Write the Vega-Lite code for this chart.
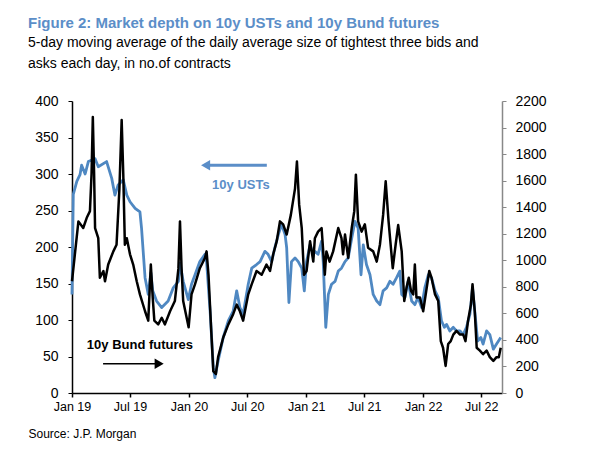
{
  "$schema": "https://vega.github.io/schema/vega-lite/v6.json",
  "width": 430,
  "height": 292,
  "autosize": "none",
  "padding": {"left": 72, "top": 101, "right": 98, "bottom": 57},
  "background": "white",
  "config": {"view": {"stroke": null}, "font": "Liberation Sans"},
  "title": {
    "text": "Figure 2: Market depth on 10y USTs and 10y Bund futures",
    "subtitle": ["5-day moving average of the daily average size of tightest three bids and", "asks each day, in no.of contracts"],
    "anchor": "start",
    "frame": "group",
    "dx": -44,
    "offset": 23,
    "color": "#5b8ec8",
    "fontSize": 15,
    "fontWeight": "bold",
    "subtitleFontSize": 14,
    "subtitleColor": "black",
    "subtitleLineHeight": 21,
    "subtitlePadding": 5
  },
  "datasets": {
    "ust": [
      {"d": "2019-01-01", "v": 135}, {"d": "2019-01-05", "v": 272}, {"d": "2019-01-16", "v": 290}, {"d": "2019-01-26", "v": 299},
      {"d": "2019-01-31", "v": 312}, {"d": "2019-02-11", "v": 300}, {"d": "2019-02-21", "v": 317}, {"d": "2019-03-14", "v": 321},
      {"d": "2019-03-24", "v": 310}, {"d": "2019-04-19", "v": 317}, {"d": "2019-05-05", "v": 294}, {"d": "2019-05-15", "v": 271},
      {"d": "2019-05-25", "v": 285}, {"d": "2019-06-10", "v": 292}, {"d": "2019-06-21", "v": 271}, {"d": "2019-07-01", "v": 262},
      {"d": "2019-07-17", "v": 253}, {"d": "2019-08-01", "v": 248}, {"d": "2019-08-06", "v": 226}, {"d": "2019-08-17", "v": 158},
      {"d": "2019-08-27", "v": 135}, {"d": "2019-09-04", "v": 165}, {"d": "2019-09-10", "v": 140}, {"d": "2019-09-22", "v": 126},
      {"d": "2019-10-08", "v": 117}, {"d": "2019-10-28", "v": 126}, {"d": "2019-11-13", "v": 144}, {"d": "2019-11-29", "v": 153},
      {"d": "2019-12-04", "v": 178}, {"d": "2019-12-14", "v": 153}, {"d": "2019-12-30", "v": 128}, {"d": "2020-01-09", "v": 149},
      {"d": "2020-01-20", "v": 162}, {"d": "2020-02-04", "v": 180}, {"d": "2020-02-20", "v": 190}, {"d": "2020-02-25", "v": 180},
      {"d": "2020-03-07", "v": 112}, {"d": "2020-03-17", "v": 35}, {"d": "2020-03-22", "v": 21}, {"d": "2020-04-01", "v": 44},
      {"d": "2020-04-17", "v": 76}, {"d": "2020-05-03", "v": 99}, {"d": "2020-05-18", "v": 112}, {"d": "2020-05-29", "v": 140},
      {"d": "2020-06-08", "v": 117}, {"d": "2020-06-18", "v": 108}, {"d": "2020-07-04", "v": 149}, {"d": "2020-07-15", "v": 171},
      {"d": "2020-07-30", "v": 176}, {"d": "2020-08-10", "v": 180}, {"d": "2020-08-25", "v": 194}, {"d": "2020-09-04", "v": 190},
      {"d": "2020-09-15", "v": 180}, {"d": "2020-09-25", "v": 199}, {"d": "2020-10-06", "v": 217}, {"d": "2020-10-16", "v": 231},
      {"d": "2020-10-27", "v": 217}, {"d": "2020-11-01", "v": 199}, {"d": "2020-11-08", "v": 124}, {"d": "2020-11-16", "v": 180},
      {"d": "2020-11-27", "v": 185}, {"d": "2020-12-07", "v": 180}, {"d": "2020-12-18", "v": 171}, {"d": "2020-12-26", "v": 140},
      {"d": "2021-01-02", "v": 180}, {"d": "2021-01-13", "v": 203}, {"d": "2021-01-23", "v": 190}, {"d": "2021-01-28", "v": 194},
      {"d": "2021-02-07", "v": 190}, {"d": "2021-02-18", "v": 208}, {"d": "2021-02-23", "v": 180}, {"d": "2021-03-03", "v": 90},
      {"d": "2021-03-11", "v": 135}, {"d": "2021-03-21", "v": 149}, {"d": "2021-04-01", "v": 153}, {"d": "2021-04-11", "v": 167},
      {"d": "2021-04-21", "v": 171}, {"d": "2021-05-02", "v": 180}, {"d": "2021-05-12", "v": 185}, {"d": "2021-05-23", "v": 212},
      {"d": "2021-06-02", "v": 235}, {"d": "2021-06-12", "v": 226}, {"d": "2021-06-21", "v": 162}, {"d": "2021-06-28", "v": 203},
      {"d": "2021-07-08", "v": 176}, {"d": "2021-07-19", "v": 162}, {"d": "2021-07-29", "v": 135}, {"d": "2021-08-09", "v": 126},
      {"d": "2021-08-19", "v": 121}, {"d": "2021-08-29", "v": 140}, {"d": "2021-09-09", "v": 144}, {"d": "2021-09-19", "v": 153},
      {"d": "2021-09-29", "v": 149}, {"d": "2021-10-10", "v": 158}, {"d": "2021-10-20", "v": 167}, {"d": "2021-10-26", "v": 135},
      {"d": "2021-11-05", "v": 131}, {"d": "2021-11-15", "v": 153}, {"d": "2021-11-26", "v": 126}, {"d": "2021-12-06", "v": 121},
      {"d": "2021-12-16", "v": 131}, {"d": "2021-12-27", "v": 117}, {"d": "2022-01-06", "v": 144}, {"d": "2022-01-17", "v": 162},
      {"d": "2022-01-27", "v": 158}, {"d": "2022-02-07", "v": 140}, {"d": "2022-02-17", "v": 131}, {"d": "2022-02-27", "v": 99},
      {"d": "2022-03-08", "v": 90}, {"d": "2022-03-15", "v": 94}, {"d": "2022-03-25", "v": 85}, {"d": "2022-04-05", "v": 90},
      {"d": "2022-04-15", "v": 85}, {"d": "2022-04-26", "v": 85}, {"d": "2022-05-06", "v": 80}, {"d": "2022-05-16", "v": 90},
      {"d": "2022-05-27", "v": 108}, {"d": "2022-06-04", "v": 144}, {"d": "2022-06-11", "v": 112}, {"d": "2022-06-20", "v": 71},
      {"d": "2022-06-30", "v": 76}, {"d": "2022-07-07", "v": 67}, {"d": "2022-07-18", "v": 85}, {"d": "2022-07-28", "v": 80},
      {"d": "2022-08-08", "v": 60}, {"d": "2022-08-18", "v": 67}, {"d": "2022-08-31", "v": 76}
    ],
    "bund": [
      {"d": "2019-01-01", "v": 842}, {"d": "2019-01-21", "v": 1293}, {"d": "2019-02-05", "v": 1243}, {"d": "2019-02-16", "v": 1320},
      {"d": "2019-02-26", "v": 1370}, {"d": "2019-03-03", "v": 1650}, {"d": "2019-03-07", "v": 2079}, {"d": "2019-03-11", "v": 1650},
      {"d": "2019-03-14", "v": 1243}, {"d": "2019-03-24", "v": 1166}, {"d": "2019-03-29", "v": 869}, {"d": "2019-04-09", "v": 919},
      {"d": "2019-04-14", "v": 842}, {"d": "2019-04-24", "v": 968}, {"d": "2019-05-10", "v": 1067}, {"d": "2019-05-20", "v": 1117},
      {"d": "2019-05-29", "v": 1540}, {"d": "2019-06-05", "v": 2057}, {"d": "2019-06-10", "v": 1650}, {"d": "2019-06-15", "v": 1117},
      {"d": "2019-06-21", "v": 1166}, {"d": "2019-07-01", "v": 1045}, {"d": "2019-07-11", "v": 968}, {"d": "2019-07-22", "v": 842},
      {"d": "2019-08-01", "v": 743}, {"d": "2019-08-17", "v": 616}, {"d": "2019-08-27", "v": 545}, {"d": "2019-09-04", "v": 968},
      {"d": "2019-09-10", "v": 715}, {"d": "2019-09-15", "v": 545}, {"d": "2019-09-27", "v": 517}, {"d": "2019-10-08", "v": 567},
      {"d": "2019-10-18", "v": 517}, {"d": "2019-11-03", "v": 616}, {"d": "2019-11-18", "v": 693}, {"d": "2019-11-29", "v": 935},
      {"d": "2019-12-04", "v": 1293}, {"d": "2019-12-09", "v": 935}, {"d": "2019-12-14", "v": 693}, {"d": "2019-12-31", "v": 495},
      {"d": "2020-01-09", "v": 743}, {"d": "2020-01-20", "v": 820}, {"d": "2020-02-04", "v": 940}, {"d": "2020-02-20", "v": 1018},
      {"d": "2020-02-25", "v": 1067}, {"d": "2020-03-02", "v": 891}, {"d": "2020-03-10", "v": 495}, {"d": "2020-03-17", "v": 165},
      {"d": "2020-03-25", "v": 143}, {"d": "2020-04-01", "v": 270}, {"d": "2020-04-17", "v": 418}, {"d": "2020-05-03", "v": 517},
      {"d": "2020-05-18", "v": 594}, {"d": "2020-05-29", "v": 666}, {"d": "2020-06-08", "v": 616}, {"d": "2020-06-18", "v": 545},
      {"d": "2020-07-04", "v": 743}, {"d": "2020-07-15", "v": 820}, {"d": "2020-07-30", "v": 919}, {"d": "2020-08-15", "v": 891},
      {"d": "2020-08-30", "v": 968}, {"d": "2020-09-10", "v": 919}, {"d": "2020-09-20", "v": 1045}, {"d": "2020-10-01", "v": 1144},
      {"d": "2020-10-11", "v": 1293}, {"d": "2020-10-21", "v": 1271}, {"d": "2020-11-01", "v": 1194}, {"d": "2020-11-14", "v": 1342},
      {"d": "2020-11-27", "v": 1540}, {"d": "2020-12-03", "v": 1744}, {"d": "2020-12-10", "v": 1419}, {"d": "2020-12-18", "v": 1243},
      {"d": "2020-12-25", "v": 891}, {"d": "2021-01-02", "v": 919}, {"d": "2021-01-13", "v": 1144}, {"d": "2021-01-23", "v": 990},
      {"d": "2021-01-28", "v": 1166}, {"d": "2021-02-07", "v": 1216}, {"d": "2021-02-18", "v": 1243}, {"d": "2021-02-28", "v": 891},
      {"d": "2021-03-05", "v": 1067}, {"d": "2021-03-15", "v": 990}, {"d": "2021-03-26", "v": 1067}, {"d": "2021-04-11", "v": 1243},
      {"d": "2021-04-21", "v": 1166}, {"d": "2021-04-26", "v": 1045}, {"d": "2021-05-02", "v": 1194}, {"d": "2021-05-12", "v": 1018},
      {"d": "2021-05-23", "v": 1243}, {"d": "2021-05-31", "v": 1370}, {"d": "2021-06-05", "v": 1645}, {"d": "2021-06-12", "v": 1293},
      {"d": "2021-06-23", "v": 1216}, {"d": "2021-07-03", "v": 1271}, {"d": "2021-07-13", "v": 1095}, {"d": "2021-07-29", "v": 1067},
      {"d": "2021-08-09", "v": 990}, {"d": "2021-08-19", "v": 1117}, {"d": "2021-08-29", "v": 1342}, {"d": "2021-09-06", "v": 1595},
      {"d": "2021-09-15", "v": 1293}, {"d": "2021-09-28", "v": 940}, {"d": "2021-10-07", "v": 1117}, {"d": "2021-10-15", "v": 1265},
      {"d": "2021-10-26", "v": 1067}, {"d": "2021-11-03", "v": 693}, {"d": "2021-11-10", "v": 792}, {"d": "2021-11-17", "v": 869},
      {"d": "2021-11-24", "v": 770}, {"d": "2021-12-01", "v": 743}, {"d": "2021-12-06", "v": 968}, {"d": "2021-12-11", "v": 720},
      {"d": "2021-12-22", "v": 720}, {"d": "2022-01-01", "v": 616}, {"d": "2022-01-12", "v": 792}, {"d": "2022-01-20", "v": 919},
      {"d": "2022-01-27", "v": 869}, {"d": "2022-02-07", "v": 743}, {"d": "2022-02-17", "v": 693}, {"d": "2022-02-25", "v": 391},
      {"d": "2022-03-04", "v": 341}, {"d": "2022-03-12", "v": 204}, {"d": "2022-03-20", "v": 369}, {"d": "2022-03-28", "v": 391},
      {"d": "2022-04-05", "v": 440}, {"d": "2022-04-15", "v": 468}, {"d": "2022-04-26", "v": 440}, {"d": "2022-05-06", "v": 440},
      {"d": "2022-05-13", "v": 391}, {"d": "2022-05-21", "v": 545}, {"d": "2022-05-30", "v": 666}, {"d": "2022-06-04", "v": 820},
      {"d": "2022-06-11", "v": 616}, {"d": "2022-06-17", "v": 341}, {"d": "2022-06-27", "v": 319}, {"d": "2022-07-07", "v": 292},
      {"d": "2022-07-18", "v": 319}, {"d": "2022-07-28", "v": 270}, {"d": "2022-08-08", "v": 242}, {"d": "2022-08-18", "v": 270},
      {"d": "2022-08-25", "v": 270}, {"d": "2022-08-31", "v": 341}
    ],
    "labels": [
      {"d": "2020-06-11", "v": 285, "t": "10y USTs", "c": "ust"},
      {"d": "2019-08-01", "v": 66, "t": "10y Bund futures", "c": "bund"}
    ],
    "arrows": [
      {"d": "2020-02-28", "d2": "2020-08-31", "v": 312, "c": "ust"},
      {"d": "2019-04-08", "d2": "2019-09-25", "v": 40, "c": "bund"}
    ],
    "heads": [
      {"d": "2020-02-22", "v": 312, "c": "ust", "s": "triangle-left"},
      {"d": "2019-09-30", "v": 40, "c": "bund", "s": "triangle-right"}
    ]
  },
  "layer": [
    {
      "layer": [
        {
          "data": {"name": "ust"},
          "mark": {"type": "line", "color": "#4f88c2", "strokeWidth": 2.8, "strokeJoin": "round"},
          "encoding": {
            "x": {
              "field": "d", "type": "temporal",
              "scale": {"domain": [{"year": 2019, "month": 1, "date": 1}, {"year": 2022, "month": 9, "date": 4}]},
              "axis": {
                "title": "Source: J.P. Morgan", "titleAnchor": "start", "titleAlign": "left", "titleX": -44, "titleY": 44,
                "titleFontSize": 12, "titleFontWeight": "normal", "titleColor": "black", "titleBaseline": "alphabetic",
                "format": "%b %y", "tickCount": {"interval": "month", "step": 6},
                "labelFontSize": 12.5, "labelColor": "black", "labelPadding": 3, "labelFlush": false, "labelOverlap": false,
                "domainColor": "black", "domainWidth": 1.5, "tickColor": "black", "tickSize": 4, "tickWidth": 1.5, "grid": false
              }
            },
            "y": {
              "field": "v", "type": "quantitative",
              "scale": {"domain": [0, 400], "nice": false},
              "axis": {
                "title": null, "values": [0, 50, 100, 150, 200, 250, 300, 350, 400], "labelOverlap": false,
                "labelFontSize": 14, "labelColor": "black", "labelPadding": 10,
                "domainColor": "black", "domainWidth": 1.5, "tickColor": "black", "tickSize": 4, "grid": false
              }
            }
          }
        },
        {
          "data": {"name": "arrows"},
          "mark": {"type": "rule"},
          "encoding": {
            "x": {"field": "d", "type": "temporal"},
            "x2": {"field": "d2"},
            "y": {
              "field": "v", "type": "quantitative",
              "axis": {
                "title": null, "values": [0, 50, 100, 150, 200, 250, 300, 350, 400], "labelOverlap": false,
                "labelFontSize": 14, "labelColor": "black", "labelPadding": 10,
                "domainColor": "black", "domainWidth": 1.5, "tickColor": "black", "tickSize": 4, "grid": false
              }
            },
            "color": {"field": "c", "type": "nominal", "scale": {"domain": ["ust", "bund"], "range": ["#5b8ec8", "black"]}, "legend": null},
            "strokeWidth": {"field": "c", "type": "nominal", "scale": {"domain": ["ust", "bund"], "range": [3, 1.5]}, "legend": null}
          }
        },
        {
          "data": {"name": "heads"},
          "mark": {"type": "point", "filled": true, "opacity": 1, "size": 110},
          "encoding": {
            "x": {"field": "d", "type": "temporal"},
            "y": {
              "field": "v", "type": "quantitative",
              "axis": {
                "title": null, "values": [0, 50, 100, 150, 200, 250, 300, 350, 400], "labelOverlap": false,
                "labelFontSize": 14, "labelColor": "black", "labelPadding": 10,
                "domainColor": "black", "domainWidth": 1.5, "tickColor": "black", "tickSize": 4, "grid": false
              }
            },
            "shape": {"field": "s", "type": "nominal", "scale": null, "legend": null},
            "color": {"field": "c", "type": "nominal", "scale": {"domain": ["ust", "bund"], "range": ["#5b8ec8", "black"]}, "legend": null}
          }
        },
        {
          "data": {"name": "labels"},
          "mark": {"type": "text", "fontWeight": "bold", "fontSize": 13, "align": "center", "baseline": "middle"},
          "encoding": {
            "x": {"field": "d", "type": "temporal"},
            "y": {
              "field": "v", "type": "quantitative",
              "axis": {
                "title": null, "values": [0, 50, 100, 150, 200, 250, 300, 350, 400], "labelOverlap": false,
                "labelFontSize": 14, "labelColor": "black", "labelPadding": 10,
                "domainColor": "black", "domainWidth": 1.5, "tickColor": "black", "tickSize": 4, "grid": false
              }
            },
            "text": {"field": "t"},
            "color": {"field": "c", "type": "nominal", "scale": {"domain": ["ust", "bund"], "range": ["#5b8ec8", "#333333"]}, "legend": null}
          }
        }
      ]
    },
    {
      "data": {"name": "bund"},
      "mark": {"type": "line", "color": "black", "strokeWidth": 2.5, "strokeJoin": "round"},
      "encoding": {
        "x": {"field": "d", "type": "temporal"},
        "y": {
          "field": "v", "type": "quantitative",
          "scale": {"domain": [0, 2200], "nice": false},
          "axis": {
            "orient": "right", "title": null, "format": "d", "values": [0, 200, 400, 600, 800, 1000, 1200, 1400, 1600, 1800, 2000, 2200],
            "labelOverlap": false, "labelFontSize": 14, "labelColor": "black", "labelPadding": 9,
            "domainColor": "#888888", "domainWidth": 1.5, "tickColor": "#888888", "tickSize": 4, "grid": false
          }
        }
      }
    }
  ],
  "resolve": {"scale": {"y": "independent", "color": "independent"}}
}
